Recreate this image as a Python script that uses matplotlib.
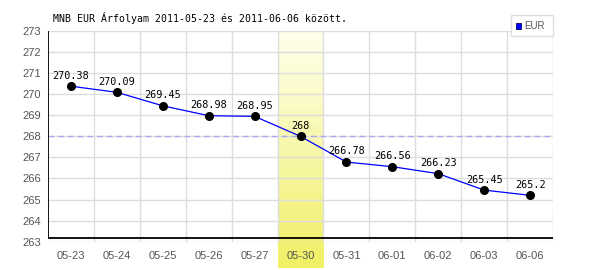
import numpy as np
import matplotlib
matplotlib.use("Agg")
import matplotlib.pyplot as plt
from matplotlib.patches import Rectangle

# data
dates = ["05-23", "05-24", "05-25", "05-26", "05-27", "05-30",
         "05-31", "06-01", "06-02", "06-03", "06-06"]
rates = [270.38, 270.09, 269.45, 268.98, 268.95, 268.0,
         266.78, 266.56, 266.23, 265.45, 265.2]
labels = ["270.38", "270.09", "269.45", "268.98", "268.95", "268",
          "266.78", "266.56", "266.23", "265.45", "265.2"]
highlight = "05-30"
ref_level = 268
yticks = list(range(263, 274))

W, H = 600, 270
fig = plt.figure(figsize=(6, 2.7), dpi=100)
ax = fig.add_axes([48 / W, 1 - 241.7 / H, (553 - 48) / W, (241.7 - 31) / H])

x = np.arange(len(dates))
ax.set_xlim(-0.5, len(dates) - 0.5)
ax.set_ylim(263, 273)

# highlighted day: vertical gradient band, runs past the axis to the bottom
hi = dates.index(highlight)
grad = np.linspace(0, 1, 256)[:, None]
top = np.array([255, 255, 238]) / 255
bot = np.array([240, 240, 100]) / 255
img = top[None, None, :] * (1 - grad[..., None]) + bot[None, None, :] * grad[..., None]
img = np.repeat(img, 2, axis=1)
y_bottom = 263 - (268 - 241.7) / 21.07
ax.imshow(img, extent=[hi - 0.5, hi + 0.5, y_bottom, 273], aspect="auto",
          zorder=0, clip_on=False)
ax.set_xlim(-0.5, len(dates) - 0.5)
ax.set_ylim(263, 273)

# grid
for yv in yticks:
    ax.axhline(yv, color="#dddddd", lw=1, zorder=1)
for b in np.arange(0.5, len(dates), 1):
    ax.axvline(b, color="#dddddd", lw=1, zorder=1)
ax.axhline(ref_level, color="#a8a8f0", lw=1, ls=(0, (4, 3)), zorder=2)

# axis lines
axis_y = 263.19
ax.plot([-0.5, -0.5], [axis_y, 273], color="black", lw=1.3, zorder=3,
        solid_capstyle="butt")
ax.plot([-0.5, len(dates) - 0.5], [axis_y, axis_y], color="black", lw=1.3,
        zorder=3, solid_capstyle="butt")
for s in ax.spines.values():
    s.set_visible(False)

# series
ax.plot(x, rates, color="#0000ff", lw=0.9, zorder=4)
ax.plot(x, rates, "o", color="black", ms=5.5, zorder=5)
for xi, v, t in zip(x, rates, labels):
    ax.annotate(t, (xi, v), xytext=(0, 4), textcoords="offset points",
                ha="center", va="bottom", fontsize=7.3,
                family="DejaVu Sans Mono", color="black", zorder=6)

ax.set_xticks(x)
ax.set_xticklabels(dates)
ax.set_yticks(yticks)
ax.tick_params(length=0, labelsize=8, labelcolor="#555555", pad=5)
ax.tick_params(axis="x", pad=7)
for lab in ax.get_xticklabels() + ax.get_yticklabels():
    lab.set_family("Liberation Sans")

fig.text(53 / W, 1 - 18 / H, "MNB EUR Árfolyam 2011-05-23 és 2011-06-06 között.",
         fontsize=7.1, family="DejaVu Sans Mono", ha="left", va="center")

# legend box
fig.patches.append(Rectangle((511 / W, 1 - 36 / H), 42 / W, 21 / H,
                             transform=fig.transFigure, facecolor="white",
                             edgecolor="#dddddd", lw=1, zorder=10))
fig.patches.append(Rectangle((515.5 / W, 1 - 28.5 / H), 5.5 / W, 5.5 / H,
                             transform=fig.transFigure, facecolor="#0000ff",
                             edgecolor="#000066", lw=0.6, zorder=11))
fig.text(524 / W, 1 - 26 / H, "EUR", fontsize=7, family="Liberation Sans",
         color="#555555", ha="left", va="center", zorder=12)

fig.savefig("out.png", dpi=100)
